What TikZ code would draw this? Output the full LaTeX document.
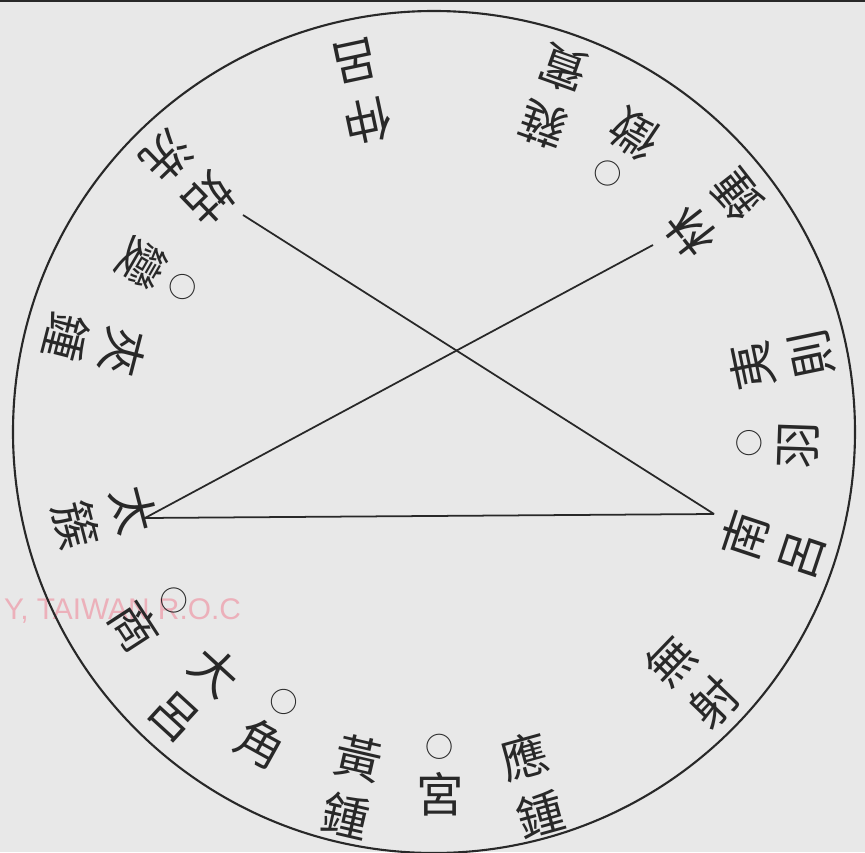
\documentclass[tikz,border=0pt]{standalone}
\usepackage{fontspec}
\newfontfamily\cjk{Noto Sans CJK TC}
\setsansfont{Liberation Sans}
\definecolor{paper}{RGB}{232,232,232}
\definecolor{ink}{RGB}{40,40,40}
\definecolor{stamp}{RGB}{236,176,186}
\tikzset{
  lv/.style={font=\cjk\fontsize{27}{34}\selectfont, text=ink, align=center, inner sep=0pt},
  sheng/.style={font=\cjk\fontsize{27}{31}\selectfont, text=ink, align=center, inner sep=0pt},
  xian/.style={draw=ink, line width=1pt}
}
\newcommand{\quan}{{\fontsize{16}{16}\selectfont ○}}

\begin{document}
\begin{tikzpicture}[x=0.02cm,y=0.02cm]
    \fill[paper] (-434,-420) rectangle (431,432);
    \useasboundingbox (-434,-420) rectangle (431,432);
    \draw[ink, line width=1.5pt] (-434,431) -- (431,431);
    \node[text=stamp, font=\sffamily\fontsize{17}{17}\selectfont, anchor=west] (mark) at (-436,-179) {Y, TAIWAN R.O.C};
    \draw[ink, line width=1.2pt] (0,0) circle (421);

    \node[lv, rotate=347] (huangzhong) at (257:364) {黃\\鍾};
    \node[sheng, rotate=0] (gong) at (271:343) {\quan\\宮};
    \node[lv, rotate=15.5] (yingzhong) at (285.5:366) {應\\鍾};
    \node[lv, rotate=46] (wuyi) at (316:359) {無\\射};
    \node[lv, rotate=71.6] (nanlv) at (341.6:357) {南\\呂};
    \node[sheng, rotate=88] (yu) at (358:344) {\quan\\羽};
    \node[lv, rotate=101.7] (yize) at (11.7:355) {夷\\則};
    \node[lv, rotate=128] (linzhong) at (38:355) {林\\鍾};
    \node[sheng, rotate=146] (zhi) at (56:340) {\quan\\徵};
    \node[lv, rotate=160.4] (ruibin) at (70.4:356) {蕤\\賓};
    \node[lv, rotate=192] (zhonglv) at (102:348) {仲\\呂};
    \node[lv, rotate=224] (guxian) at (134:354) {姑\\洗};
    \node[sheng, rotate=240] (bian) at (150:318) {\quan\\變};
    \node[lv, rotate=255.6] (jiazhong) at (165.6:350) {夾\\鍾};
    \node[lv, rotate=284.5] (taicu) at (194.5:340) {太\\簇};
    \node[sheng, rotate=303] (shang) at (213:338) {\quan\\商};
    \node[lv, rotate=317.5] (dalv) at (227.5:354) {大\\呂};
    \node[sheng, rotate=331] (jue) at (241:337) {\quan\\角};

    \coordinate (taicu-pt) at (-289,-86);
    \coordinate (nanlv-pt) at (280,-82);
    \coordinate (linzhong-pt) at (219,187);
    \coordinate (guxian-pt) at (-191,217);
    \draw[xian] (taicu-pt) -- (nanlv-pt);
    \draw[xian] (taicu-pt) -- (linzhong-pt);
    \draw[xian] (guxian-pt) -- (nanlv-pt);
\end{tikzpicture}
\end{document}
